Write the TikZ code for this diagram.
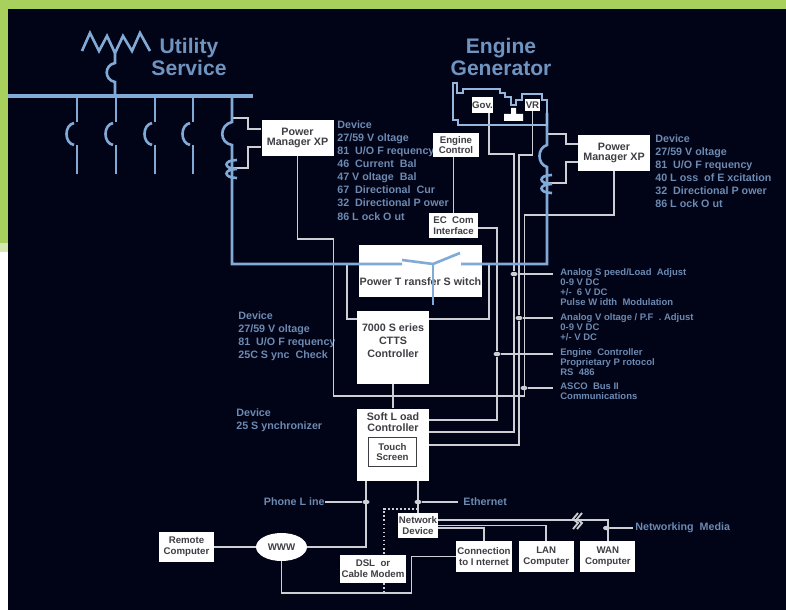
\documentclass[tikz,border=0pt]{standalone}
\usepackage{fontspec}
\setsansfont{Liberation Sans}
\usetikzlibrary{shapes.geometric, positioning, calc}
\definecolor{panel}{RGB}{1,3,22}
\definecolor{frame}{RGB}{168,208,92}
\definecolor{framepale}{RGB}{214,232,178}
\definecolor{busblue}{RGB}{130,170,215}
\definecolor{wiregrey}{RGB}{205,207,212}
\definecolor{titleblue}{RGB}{112,148,192}
\definecolor{labelblue}{RGB}{108,138,178}
\definecolor{boxtext}{RGB}{62,62,68}

\begin{document}
\begin{tikzpicture}[
        x=0.2mm, y=-0.2mm, font=\sffamily\bfseries,
        box/.style={fill=white, inner sep=0pt, align=center, text=boxtext, font=\sffamily\bfseries\fontsize{6.1}{7.5}\selectfont},
        pmbox/.style={box, minimum width=14.4mm, minimum height=7.2mm, font=\sffamily\bfseries\fontsize{6.1}{6.1}\selectfont},
        smallbox/.style={box, font=\sffamily\bfseries\fontsize{5.5}{6.2}\selectfont},
        title/.style={align=center, inner sep=0pt, text=titleblue, font=\sffamily\bfseries\fontsize{12}{12.5}\selectfont},
        devlabel/.style={anchor=north west, align=left, inner sep=0pt, text=labelblue, font=\sffamily\bfseries\fontsize{6.1}{7.48}\selectfont},
        sidelabel/.style={anchor=north west, align=left, inner xsep=1.4mm, inner ysep=0pt, text=labelblue, font=\sffamily\bfseries\fontsize{5.4}{5.67}\selectfont},
        medialabel/.style={inner sep=0pt, text=labelblue, font=\sffamily\bfseries\fontsize{6.1}{7.5}\selectfont},
        wire/.style={draw=wiregrey, line width=1.05pt},
        dotwire/.style={draw=wiregrey, line width=1.1pt, dash pattern=on 1pt off 1.3pt},
        busline/.style={draw=busblue, line width=1.5pt},
        outline/.style={draw=busblue!85!white, line width=0.9pt},
        dot/.style={ellipse, fill=wiregrey, minimum width=1.4mm, minimum height=0.9mm, inner sep=0pt}
    ]
    \useasboundingbox (0,0) rectangle (786,610);
    % frame and panel
    \fill[white] (0,0) rectangle (786,610);
    \fill[frame] (0,0) rectangle (786,9);
    \fill[frame] (0,0) rectangle (8,243);
    \fill[framepale] (0,243) rectangle (8,252);
    \fill[panel] (8,9) rectangle (786,610);

    % texts on the panel
    \node[title] (utility) at (189,57) {Utility\\Service};
    \node[title] (engine) at (501,57) {Engine\\Generator};
    \node[devlabel] (devpma) at (337,120) {Device\\27/59 V oltage\\81~ U/O F requency\\46~ Current~ Bal\\47 V oltage~ Bal\\67~ Directional~ Cur\\32~ Directional P ower\\86 L ock O ut};
    \node[devlabel] (devpmb) at (655,134) {Device\\27/59 V oltage\\81~ U/O F requency\\40 L oss~ of E xcitation\\32~ Directional P ower\\86 L ock O ut};
    \node[devlabel] (devctts) at (238,311) {Device\\27/59 V oltage\\81~ U/O F requency\\25C S ync~ Check};
    \node[devlabel] (devsoft) at (236,408) {Device\\25 S ynchronizer};
    \node[sidelabel] (lblspeed) at (553,268) {Analog S peed/Load~ Adjust\\0-9 V DC\\+/-~ 6 V DC\\Pulse W idth~ Modulation};
    \node[sidelabel] (lblvolt) at (553,313) {Analog V oltage / P.F~ . Adjust\\0-9 V DC\\+/- V DC};
    \node[sidelabel] (lbleng) at (553,348) {Engine~ Controller\\Proprietary P rotocol\\RS~ 486};
    \node[sidelabel] (lblasco) at (553,383) {ASCO~ Bus II\\Communications};
    \node[medialabel, anchor=east] (lblphone) at (325,502) {Phone L ine};
    \node[medialabel, anchor=west, inner xsep=1mm] (lbleth) at (458,502) {Ethernet};
    \node[medialabel, anchor=west, inner xsep=0.4mm] (lblmedia) at (633,528) {Networking~ Media};

    % junctions and tap points
    \node[dot] (jspeed) at (514,274) {};
    \node[dot] (jvolt) at (519,318) {};
    \node[dot] (jeng) at (497,354) {};
    \node[dot] (jasco) at (524,388) {};
    \node[dot] (jphone) at (366,502) {};
    \node[dot] (jeth) at (418,502) {};
    \node[dot] (jmedia) at (606.5,528) {};
    \coordinate (tapa) at (232,118);
    \coordinate (tapb) at (232,168);
    \coordinate (tapc) at (547,134);
    \coordinate (tapd) at (547,183);
    \coordinate (tapl) at (347,263);
    \coordinate (tapr) at (489,264);
    \coordinate (dsltap) at (418,509);

    % boxes
    \node[pmbox] (pma) at (297.5,138) {Power\\Manager XP};
    \node[pmbox] (pmb) at (614,153) {Power\\Manager XP};
    \node[box, minimum width=24.6mm, text height=23pt, text depth=6.5pt] (switch) at (420.5,271) {Power T ransfer S witch};
    \node[box, minimum width=14.4mm, minimum height=14.6mm] (ctts) at (393,347.5) {7000 S eries\\CTTS\\Controller\\ \mbox{}};
    \node[box, minimum width=14.4mm, minimum height=14.4mm, below=4.8mm of ctts, font=\sffamily\bfseries\fontsize{6.1}{6.2}\selectfont] (softload) {Soft L oad\\Controller\\[19.3pt]\mbox{}};
    \node[smallbox, draw=boxtext, line width=0.6pt, minimum width=9.6mm, minimum height=5.8mm] (touch) at (392.5,452) {Touch\\Screen};
    \node[smallbox, minimum width=9.2mm, minimum height=4.8mm] (engctl) at (456,145) {Engine\\Control};
    \node[smallbox, minimum width=9.8mm, minimum height=5mm] (eccom) at (453.5,225.5) {EC~ Com\\Interface};
    \node[smallbox, minimum width=4.2mm, minimum height=3.2mm] (gov) at (482.5,105) {Gov.};
    \node[smallbox, minimum width=3mm, minimum height=2.4mm] (vr) at (532.5,105) {VR};
    \node[smallbox, minimum width=11mm, minimum height=6mm] (remote) at (186.5,547) {Remote\\Computer};
    \node[smallbox, ellipse, minimum width=10.2mm, minimum height=5.6mm] (www) at (281.5,547) {WWW};
    \node[smallbox, minimum width=13.2mm, minimum height=5.6mm] (dsl) at (373,569) {DSL~ or\\Cable Modem};
    \node[smallbox, minimum width=8mm, minimum height=5mm] (netdev) at (418,525.5) {Network\\Device};
    \node[smallbox, minimum width=11.2mm, minimum height=6.2mm] (conn) at (484,556.5) {Connection\\to I nternet};
    \node[smallbox, minimum width=11mm, minimum height=6.2mm, right=1.2mm of conn] (lan) {LAN\\Computer};
    \node[smallbox, minimum width=11mm, minimum height=6.2mm, right=1.2mm of lan] (wan) {WAN\\Computer};

    % wires
    \draw[wire] ([yshift=1.8mm]pma.west) -- ++(-13,0) |- (tapa);
    \draw[wire] ([yshift=-1.8mm]pma.west) -- ++(-13,0) |- (tapb);
    \draw[wire] ([yshift=1.8mm]pmb.west) -- ++(-12,0) |- (tapc);
    \draw[wire] ([yshift=-1.8mm]pmb.west) -- ++(-12,0) |- (tapd);
    \draw[wire] (pma.south) -- ++(0,83) -- ++(36,0) -- ++(0,157) -- ++(191,0) -- ++(0,-181) -| (pmb.south);
    \draw[wire] (gov.south -| 489,0) -- ++(0,41) -| (jspeed) |- ([yshift=2.6mm]softload.east);
    \draw[wire] (vr.south) -- ++(0,44) -| (jvolt) |- (softload.east);
    \draw[wire] ([yshift=-0.5mm]eccom.east) -| (jeng) |- ([yshift=5mm]softload.east);
    \draw[wire] (eccom.north) -- (eccom.north |- engctl.south);
    \draw[wire] (tapl) |- ([yshift=-1.6mm]ctts.north west);
    \draw[wire] (tapr) |- ([yshift=-1.6mm]ctts.north east);
    \draw[wire] (ctts.south) -- (softload.north);
    \draw[wire] (jspeed) -- (jspeed -| lblspeed.west);
    \draw[wire] (jvolt) -- (jvolt -| lblvolt.west);
    \draw[wire] (jeng) -- (jeng -| lbleng.west);
    \draw[wire] (jasco) -- (jasco -| lblasco.west);
    \draw[wire] (jphone |- softload.south) |- (www.east);
    \draw[wire] (lblphone.east) -- (jphone);
    \draw[wire] (remote.east) -- (www.west);
    \draw[wire] (www.south) -- ++(0,32) -- ++(130,0) |- (conn.west);
    \draw[wire] (jeth |- softload.south) -- (netdev.north);
    \draw[wire] (jeth) -- (lbleth.west);
    \draw[wire] (jmedia) -- (lblmedia.west);
    \draw[dotwire] (dsltap) -| ([xshift=2.2mm]dsl.north);
    \draw[dotwire] ([xshift=2.2mm]dsl.south) -- ++(0,10);
    \draw[wire] ([yshift=1.1mm]netdev.east) -| (wan.north);
    \draw[wire] (netdev.east) -| (lan.north);
    \draw[wire] ([yshift=-0.5mm]netdev.east) -| (conn.north);
    \foreach \x in {573,577}
        \draw[wire] (\x+5,513) -- (\x,519) -- (\x+5,523) -- (\x,529);

    % utility side
    \draw[busline] (82,51) -- (90,33) -- (99,51) -- (107,36) -- (115,53) -- (123,36) -- (132,51) -- (140,33) -- (150,51);
    \draw[busline] (115,53) -- (115,63) .. controls (104,65) and (104,80) .. (115,82) -- (115,96);
    \draw[busline, line width=2.1pt] (8,96) -- (253,96);
    \foreach \x in {77,116,155,193} {
        \draw[busline] (\x,96) -- (\x,122) (\x,145) -- (\x,174);
        \draw[busline] (\x-3,123) .. controls (\x-13,125) and (\x-13,143) .. (\x-3,145);
    }
    \draw[busline] (232,96) -- (232,122) .. controls (219,125) and (219,143) .. (232,145) -- (232,264) -- (402,264);
    \foreach \x/\y in {232/160,547/175}
        \draw[busline] (\x+5,\y) .. controls (\x-9,\y) and (\x-9,\y+9) .. (\x+5,\y+9) .. controls (\x-9,\y+9) and (\x-9,\y+18) .. (\x+5,\y+18);

    % transfer contacts
    \draw[busline] (402,260) -- (433,264) -- (460,253);
    \draw[busline] (433,264) -- (433,305);
    \draw[busline] (461,264) -- (547,264) -- (547,167) .. controls (537,164) and (537,148) .. (547,145) -- (547,113);

    % generator
    \draw[outline] (453,83) -- (457,83) -- (457,93) -- (463,93) -- (463,89) -- (500,89) -- (500,93) -- (505,93) -- (505,97) -- (511,97) -- (511,105) -- (516,105) -- (516,100) -- (522,100) -- (522,94) -- (542,94) -- (542,100) -- (547,100) -- (547,125) -- (458,125) -- (458,120) -- (453,120) -- cycle;
    \fill[white] (511,108) rectangle (516,115) (504,114) rectangle (523,121);
\end{tikzpicture}
\end{document}
